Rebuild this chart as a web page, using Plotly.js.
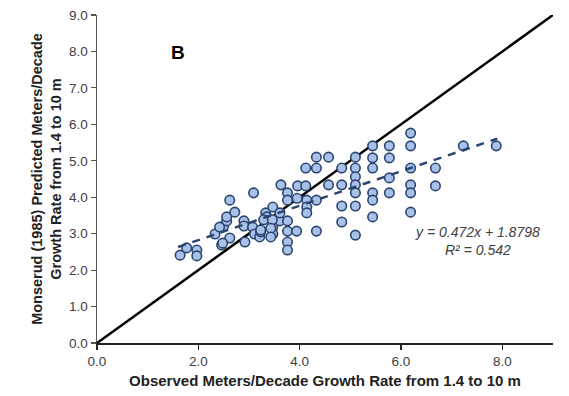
<!DOCTYPE html>
<html>
<head>
<meta charset="utf-8">
<script src="https://cdn.plot.ly/plotly-3.0.1.min.js"></script>
<style>html,body{margin:0;padding:0;background:#fff;}#chart{width:569px;height:396px;}</style>
</head>
<body>
<div id="chart"></div>
<script>
// Observed vs predicted growth rates (m/decade)
const observed = [
  1.64,1.77,1.97,1.97,2.33,2.46,2.62,2.50,2.56,2.56,2.72,2.62,2.90,2.90,2.92,3.07,3.11,3.09,3.21,3.23,
  3.33,3.35,3.47,3.47,3.47,3.61,3.61,3.63,3.76,3.76,3.76,3.76,3.76,3.76,3.94,3.96,4.12,4.14,4.14,4.12,
  4.33,4.33,4.57,4.33,4.33,4.57,4.83,4.83,4.83,4.83,5.10,5.10,5.10,5.10,5.10,5.10,5.10,5.44,5.44,5.44,
  5.44,5.44,5.44,5.77,5.77,5.77,5.77,6.19,6.19,6.19,6.19,6.19,6.19,6.68,6.68,7.23,7.88,
  3.29,3.46,3.43,3.23,2.42,2.48,3.95,3.43,4.14
];
const predicted = [
  2.41,2.61,2.55,2.39,2.99,2.69,2.88,3.21,3.35,3.46,3.59,3.92,3.35,3.21,2.77,3.18,2.99,4.12,2.91,3.05,
  3.57,3.46,3.73,3.18,2.99,3.35,3.57,4.34,4.12,3.92,3.35,3.07,2.77,2.55,3.07,4.31,4.31,3.92,3.73,4.80,
  4.80,5.10,5.10,3.92,3.07,4.34,4.80,4.34,3.76,3.32,5.10,4.80,4.56,4.34,4.12,3.76,2.96,5.41,5.08,4.80,
  4.12,3.92,3.46,5.41,5.08,4.53,4.12,5.76,5.41,4.80,4.34,4.12,3.59,4.80,4.31,5.41,5.41,
  3.38,3.38,3.15,3.10,3.18,2.74,3.97,2.91,3.57
];
const oneToOne = [0, 9];
const fitSlope = 0.472, fitIntercept = 1.8798, fitR2 = 0.542;
const fitRange = [1.6, 7.9];
const xTicks = [0, 2, 4, 6, 8];
const xTickLabels = ["0.0", "2.0", "4.0", "6.0", "8.0"];
const yTicks = [0, 1, 2, 3, 4, 5, 6, 7, 8, 9];
const yTickLabels = ["0.0","1.0","2.0","3.0","4.0","5.0","6.0","7.0","8.0","9.0"];

const traces = [
  {x: oneToOne, y: oneToOne, mode: 'lines', line: {color: '#000000', width: 2.5}, hoverinfo: 'skip', cliponaxis: false},
  {x: observed, y: predicted, mode: 'markers',
   marker: {size: 9.5, color: '#a8c1e8', line: {color: '#2c4570', width: 1.6}}},
  {x: fitRange, y: fitRange.map(v => fitSlope * v + fitIntercept), mode: 'lines',
   line: {color: '#2c4570', width: 2.5, dash: '8px,7px'}}
];

const layout = {
  width: 569, height: 396,
  margin: {l: 97, r: 16, t: 15, b: 53},
  paper_bgcolor: '#ffffff', plot_bgcolor: '#ffffff',
  showlegend: false,
  font: {family: 'Liberation Sans, Arial, sans-serif', color: '#333333'},
  xaxis: {
    range: [0, 9], tickvals: xTicks, ticktext: xTickLabels,
    showgrid: false, zeroline: false, showline: true, linecolor: '#222222', linewidth: 1.5,
    ticks: 'outside', ticklen: 5, tickcolor: '#222222', tickwidth: 1.2,
    tickfont: {size: 13.5, color: '#404040'},
    title: {text: '<b>Observed Meters/Decade Growth Rate from 1.4 to 10 m</b>', font: {size: 15, color: '#222222'}, standoff: 8}
  },
  yaxis: {
    range: [0, 9], tickvals: yTicks, ticktext: yTickLabels,
    showgrid: false, zeroline: false, showline: true, linecolor: '#555555', linewidth: 1.5,
    ticks: 'outside', ticklen: 5, tickcolor: '#555555', tickwidth: 1.2,
    tickfont: {size: 13.5, color: '#404040'},
    title: {text: '<b>Monserud (1985) Predicted Meters/Decade<br>Growth Rate from 1.4 to 10 m</b>', font: {size: 14.5, color: '#222222'}, standoff: 4}
  },
  annotations: [
    {xref: 'paper', yref: 'paper', x: 0.157, y: 0.925, text: '<b>B</b>', showarrow: false,
     font: {size: 19, color: '#000000', family: 'Liberation Sans, Arial, sans-serif'}},
    {x: 7.5, y: 2.8, text: '<i>y = ' + fitSlope + 'x + ' + fitIntercept + '</i><br><i>R² = ' + fitR2 + '</i>',
     showarrow: false, align: 'center', font: {size: 14, color: '#404040'}}
  ]
};

Plotly.newPlot('chart', traces, layout, {displayModeBar: false, staticPlot: true});
</script>
</body>
</html>
